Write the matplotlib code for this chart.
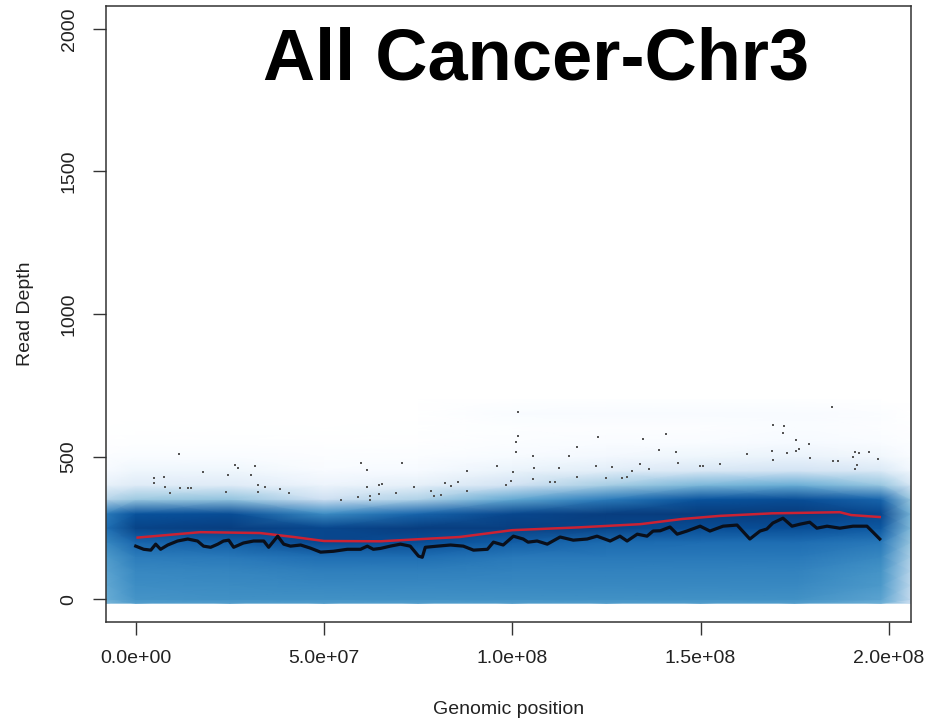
import numpy as np
import matplotlib
matplotlib.use("Agg")
import matplotlib.pyplot as plt
from matplotlib.colors import LinearSegmentedColormap

plt.rcParams['font.family'] = ['Liberation Sans', 'DejaVu Sans']

# density grid (0 = white, 1 = darkest blue)
dens_x_mb = [-8, 0, 25, 50, 75, 100, 125, 150, 175, 198, 206]
dens_depth = [-14, 0, 50, 100, 150, 200, 250, 300, 350, 400, 450, 500, 550, 600, 650, 700]
dens_cols = [
    [0.52, 0.56, 0.58, 0.60, 0.63, 0.70, 0.78, 0.74, 0.38, 0.18, 0.12, 0.06, 0.02, 0.0, 0.0, 0.0],
    [0.62, 0.66, 0.68, 0.70, 0.74, 0.82, 0.93, 0.88, 0.45, 0.22, 0.15, 0.08, 0.03, 0.01, 0.0, 0.0],
    [0.62, 0.67, 0.69, 0.71, 0.75, 0.84, 0.95, 0.90, 0.47, 0.22, 0.15, 0.08, 0.03, 0.01, 0.0, 0.0],
    [0.62, 0.67, 0.70, 0.73, 0.79, 0.92, 0.92, 0.68, 0.30, 0.16, 0.10, 0.05, 0.02, 0.0, 0.0, 0.0],
    [0.62, 0.67, 0.70, 0.73, 0.79, 0.90, 0.95, 0.82, 0.40, 0.19, 0.12, 0.06, 0.02, 0.01, 0.0, 0.0],
    [0.62, 0.67, 0.70, 0.72, 0.75, 0.84, 0.95, 0.92, 0.58, 0.28, 0.17, 0.11, 0.06, 0.04, 0.08, 0.02],
    [0.62, 0.67, 0.70, 0.72, 0.75, 0.80, 0.93, 0.95, 0.74, 0.42, 0.21, 0.13, 0.08, 0.05, 0.10, 0.03],
    [0.62, 0.67, 0.70, 0.72, 0.75, 0.79, 0.90, 0.96, 0.88, 0.52, 0.25, 0.15, 0.09, 0.05, 0.10, 0.03],
    [0.62, 0.67, 0.70, 0.72, 0.75, 0.79, 0.90, 0.96, 0.90, 0.56, 0.28, 0.17, 0.12, 0.08, 0.10, 0.03],
    [0.55, 0.60, 0.64, 0.66, 0.70, 0.75, 0.86, 0.92, 0.82, 0.46, 0.24, 0.14, 0.08, 0.05, 0.06, 0.0],
    [0.30, 0.33, 0.35, 0.37, 0.40, 0.45, 0.50, 0.52, 0.45, 0.26, 0.14, 0.08, 0.04, 0.02, 0.0, 0.0],
]

# outlier points (Mb, read depth)
pts_x_mb = [11.4, 4.8, 4.8, 7.4, 7.7, 9.0, 11.7, 13.8, 14.6, 17.8, 23.9, 24.4, 26.3, 27.1, 30.5,
            31.8, 32.6, 34.2, 32.6, 38.2, 40.6, 54.6, 58.9, 59.7, 61.5, 61.5, 62.3, 62.3, 64.7,
            65.5, 64.7, 69.2, 70.6, 74.0, 78.5, 79.3, 81.2, 82.2, 83.6, 85.7, 88.1, 88.1, 96.0,
            98.4, 99.7, 100.3, 101.1, 101.1, 101.6, 101.6, 105.6, 105.8, 105.6, 110.1, 111.4,
            112.5, 115.1, 117.2, 117.2, 122.8, 122.3, 124.9, 126.5, 129.2, 130.5, 131.8, 134.0,
            134.7, 136.3, 139.0, 140.8, 143.5, 144.0, 149.9, 150.7, 155.2, 162.3, 169.0, 169.2,
            172.2, 171.9, 169.2, 172.9, 175.3, 175.3, 176.1, 178.8, 179.0, 184.9, 185.1, 186.5,
            190.5, 191.0, 192.0, 191.5, 191.0, 194.7, 197.1]
pts_depth = [509, 425, 407, 428, 393, 372, 389, 389, 389, 446, 375, 435, 470, 460, 435,
             467, 400, 393, 375, 386, 372, 347, 358, 477, 453, 393, 361, 347, 400,
             404, 368, 372, 477, 393, 379, 361, 365, 407, 397, 411, 449, 379, 467,
             400, 414, 446, 516, 551, 572, 656, 502, 460, 421, 411, 411,
             460, 502, 533, 428, 568, 467, 425, 463, 425, 428, 449, 474,
             561, 456, 523, 579, 516, 477, 467, 467, 474, 509, 519, 611,
             607, 583, 488, 512, 558, 519, 526, 544, 495, 674, 484, 484,
             498, 516, 512, 470, 456, 516, 491]

# lowess fit (red)
fit_x_mb = [0.5, 17.2, 33.0, 42.0, 50.0, 65.0, 86.0, 100.0, 118.0, 134.0, 145.0, 155.0,
            169.0, 187.0, 190.0, 197.6]
fit_depth = [216, 235, 232, 218, 204, 203, 218, 242, 252, 263, 281, 292, 301, 305, 295, 288]

# running median (black)
med_x_mb = [0, 2.1, 4.0, 5.3, 6.6, 8.5, 11.1, 13.8, 16.4, 18.0, 19.9, 21.8, 23.3, 24.7, 26.0,
            28.6, 31.3, 34.0, 35.3, 37.7, 39.3, 41.1, 43.8, 46.4, 49.1, 52.5, 56.2, 59.7, 61.5,
            63.1, 65.0, 67.6, 70.3, 72.9, 75.1, 76.1, 76.9, 80.1, 83.6, 87.0, 89.7, 93.4, 95.0,
            97.6, 100.3, 102.9, 104.2, 106.6, 109.3, 112.7, 116.2, 119.9, 122.5, 126.0, 128.6,
            130.5, 133.2, 135.8, 137.4, 139.3, 141.9, 143.8, 146.4, 149.9, 152.5, 156.0, 159.7,
            163.1, 165.8, 167.6, 169.2, 171.9, 174.3, 176.4, 179.0, 180.9, 183.6, 187.0, 190.5,
            194.2, 195.8, 197.6]
med_depth = [186, 175, 172, 193, 175, 190, 204, 211, 204, 186, 182, 193, 204, 207, 182,
             197, 204, 204, 182, 221, 193, 186, 190, 179, 165, 168, 175, 175, 186,
             175, 178, 186, 193, 186, 151, 147, 182, 186, 190, 186, 172, 175, 200,
             190, 221, 211, 200, 204, 193, 218, 207, 211, 221, 204, 221,
             204, 228, 221, 239, 240, 253, 228, 239, 256, 239, 256, 260,
             211, 239, 246, 267, 284, 256, 263, 270, 249, 256, 249, 256,
             256, 235, 211]

blues9 = ["#F7FBFF", "#DEEBF7", "#C6DBEF", "#9ECAE1", "#6BAED6",
          "#4292C6", "#2171B5", "#08519C", "#08306B"]
cmap = LinearSegmentedColormap.from_list("ss", ["white"] + blues9)

fig = plt.figure(figsize=(9.26, 7.21), dpi=100)
ax = fig.add_axes([106 / 926, 1 - 622 / 721, 805 / 926, 616 / 721])

X, Y = np.meshgrid(np.array(dens_x_mb) * 1e6, dens_depth)
C = np.array(dens_cols).T
ax.pcolormesh(X, Y, C, shading='gouraud', cmap=cmap, vmin=0, vmax=1, zorder=1)

ax.plot(np.array(pts_x_mb) * 1e6, pts_depth, 's', ms=2.0, color='#555555', mew=0, zorder=2)
ax.plot(np.array(fit_x_mb) * 1e6, fit_depth, color='#cc2233', lw=1.8, zorder=3)
ax.plot(np.array(med_x_mb) * 1e6, med_depth, color='#0a0f1a', lw=2.3, zorder=4)

ax.set_xlim(-7.9e6, 2.059e8)
ax.set_ylim(-80, 2080)
ax.set_xticks([0, 5e7, 1e8, 1.5e8, 2e8])
ax.set_xticklabels(['0.0e+00', '5.0e+07', '1.0e+08', '1.5e+08', '2.0e+08'])
ax.set_yticks([0, 500, 1000, 1500, 2000])
ax.set_yticklabels(['0', '500', '1000', '1500', '2000'], rotation=90, va='center')
ax.tick_params(length=9.5, width=1, color='#333333', labelsize=14, pad=11, labelcolor='#222222')
for s in ax.spines.values():
    s.set_color('#333333')
    s.set_linewidth(1.1)

ax.set_xlabel('Genomic position', fontsize=14, labelpad=24, color='#222222')
ax.set_ylabel('Read Depth', fontsize=14, labelpad=19, color='#222222')

ax.text(1.064e8, 1888, 'All Cancer-Chr3', fontsize=52, fontweight='bold',
        ha='center', va='center', zorder=5)

fig.savefig('out.png', dpi=100)
